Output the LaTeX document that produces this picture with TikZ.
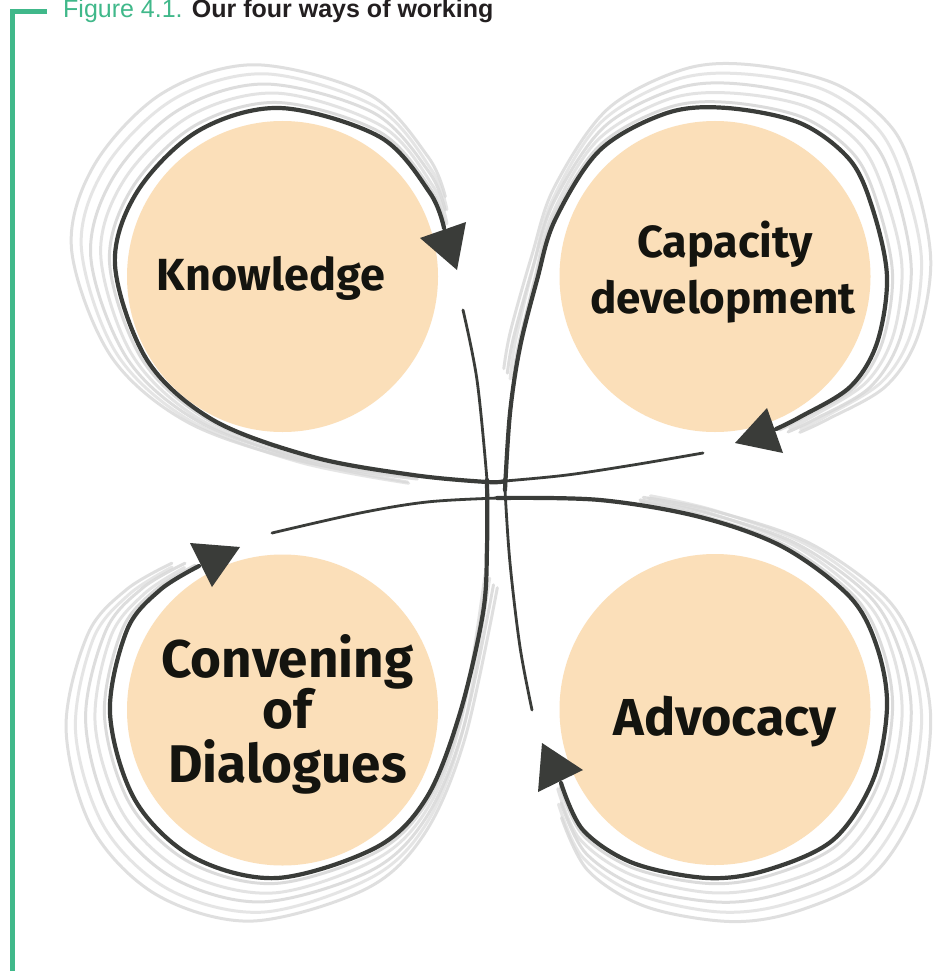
\documentclass[tikz,border=0pt]{standalone}
\usepackage{fontspec}
\setmainfont{Liberation Sans}
\newfontfamily\labelfont{Fira Sans}
\definecolor{figgreen}{HTML}{40B88A}
\definecolor{titleink}{HTML}{231F20}
\definecolor{peach}{HTML}{FBDFB9}
\definecolor{inkdark}{HTML}{3A3C39}
\definecolor{labelink}{HTML}{14140F}
\definecolor{sketchgrey}{HTML}{D8D8D8}
\begin{document}
\begin{tikzpicture}[x=1pt,y=-1pt,
  darkthick/.style={draw=inkdark, line width=4.2pt, line cap=round, line join=round},
  darkthin/.style={draw=inkdark, line width=2.8pt, line cap=round, line join=round},
  sketch/.style={draw=sketchgrey, line width=3pt, line cap=round, line join=round},
  arrowhead/.style={fill=inkdark},
  wayc/.style={circle, fill=peach, minimum size=311pt, inner sep=0pt},
  waysmall/.style={font=\labelfont\bfseries\fontsize{45}{54}\selectfont, text=labelink, anchor=base, inner sep=0pt},
  waybig/.style={font=\labelfont\bfseries\fontsize{53}{60}\selectfont, text=labelink, anchor=base, inner sep=0pt},
  greenrule/.style={draw=figgreen, line width=5pt}
]
\useasboundingbox (0,0) rectangle (944,971);
\fill[white] (0,0) rectangle (944,971);

% frame rule and title
\coordinate (gTop) at (47,11.5);
\coordinate (gCorner) at (12.5,11.5);
\coordinate (gBottom) at (12.5,975);
\draw[greenrule] (gTop) -- (gCorner) -- (gBottom);
\node[anchor=base west, inner sep=0pt, font=\fontsize{25}{30}\selectfont] (title) at (63,18)
  {\textcolor{figgreen}{Figure 4.1.} \textbf{\textcolor{titleink}{Our four ways of working}}};

% ---------- grey sketch strokes (scale / shift / small rotation jitter) ----------
% Knowledge (outward up-left)
\foreach \s/\d/\r/\o in {1.02/3/0/90, 1.05/9/-1.5/70, 1.08/15/1.2/85, 1.11/22/-0.8/65, 1.14/28/1.5/80} {
  \draw[sketch, draw opacity=\o/100, shift={(-0.707*\d,-0.707*\d)}, rotate around={\r:(282.5,276.5)}, scale around={\s:(282.5,276.5)}]
    plot[smooth, tension=0.55] coordinates {(413,475) (313,457) (213,420) (147,360) (115,265) (137,192) (198,131) (280,108) (380,137) (430,193) (444,228)};
}
% Convening (outward down-left)
\foreach \s/\d/\r/\o in {1.02/3/0/90, 1.05/9/1.5/70, 1.08/15/-1.2/85, 1.11/22/0.8/65, 1.14/28/-1.5/80} {
  \draw[sketch, draw opacity=\o/100, shift={(-0.707*\d,0.707*\d)}, rotate around={\r:(282.5,710)}, scale around={\s:(282.5,710)}]
    plot[smooth, tension=0.55] coordinates {(485,580) (460,713) (427,797) (377,847) (277,878) (193,857) (135,800) (110,713) (127,630) (160,590) (199,566)};
}
% Advocacy (outward down-right)
\foreach \s/\d/\r/\o in {1.02/3/0/90, 1.05/9/-1.5/70, 1.08/15/1.2/85, 1.11/22/-0.8/65, 1.14/28/1.5/80} {
  \draw[sketch, draw opacity=\o/100, shift={(0.707*\d,0.707*\d)}, rotate around={\r:(715,709.5)}, scale around={\s:(715,709.5)}]
    plot[smooth, tension=0.55] coordinates {(640,504) (700,517) (783,547) (850,597) (877,647) (887,707) (873,780) (833,840) (767,870) (707,878) (633,863) (583,830) (561,783)};
}
% Capacity (outward up-right)
\foreach \s/\d/\r/\o in {1.02/3/0/90, 1.05/9/1.5/70, 1.08/15/-1.2/85, 1.11/22/0.8/65, 1.14/28/-1.5/80} {
  \draw[sketch, draw opacity=\o/100, shift={(0.707*\d,-0.707*\d)}, rotate around={\r:(715,276.5)}, scale around={\s:(715,276.5)}]
    plot[smooth, tension=0.55] coordinates {(515,380) (520,347) (537,280) (555,220) (600,150) (667,113) (727,108) (800,123) (850,160) (873,210) (887,277) (877,343) (850,387) (800,417) (776,429)};
}

% ---------- circles ----------
\node[wayc] (know) at (282.5,276.5) {};
\node[wayc] (capa) at (715,276.5) {};
\node[wayc] (conv) at (282.5,710) {};
\node[wayc] (advo) at (715,709.5) {};

% ---------- dark loops ----------
% thin connectors leaving each arrow
\draw[darkthin] plot[smooth, tension=0.55] coordinates {(703,453) (633,465) (567,475) (505,481) (487,482)};
\draw[darkthin] plot[smooth, tension=0.55] coordinates {(463,310) (477,380) (487,480) (487,500)};
\draw[darkthin] plot[smooth, tension=0.55] coordinates {(272,533) (360,513) (427,502) (497,498) (510,498)};
\draw[darkthin] plot[smooth, tension=0.55] coordinates {(532,710) (520,647) (510,563) (505,490) (505,478)};
% thick loops
\draw[darkthick] plot[smooth, tension=0.55] coordinates {(505,481) (487,482) (413,475) (313,457) (213,420) (147,360) (115,265) (137,192) (198,131) (280,108) (380,137) (430,193) (444,228)};
\draw[darkthick] plot[smooth, tension=0.55] coordinates {(487,480) (487,547) (483,613) (460,713) (427,797) (377,847) (277,878) (193,857) (135,800) (110,713) (127,630) (160,590) (199,566)};
\draw[darkthick] plot[smooth, tension=0.55] coordinates {(497,498) (600,500) (700,517) (783,547) (850,597) (877,647) (887,707) (873,780) (833,840) (767,870) (707,878) (633,863) (583,830) (561,783)};
\draw[darkthick] plot[smooth, tension=0.55] coordinates {(505,490) (510,413) (520,347) (537,280) (555,220) (600,150) (667,113) (727,108) (800,123) (850,160) (873,210) (887,277) (877,343) (850,387) (800,417) (776,429)};

% ---------- arrowheads ----------
\coordinate (kTip) at (457,270); \coordinate (kB1) at (420,238); \coordinate (kB2) at (466,222);
\coordinate (cTip) at (240,547); \coordinate (cB1) at (190,543); \coordinate (cB2) at (212,587);
\coordinate (aTip) at (542,743); \coordinate (aB1) at (538,792); \coordinate (aB2) at (583,770);
\coordinate (pTip) at (735,443); \coordinate (pB1) at (767,408); \coordinate (pB2) at (783,453);
\fill[arrowhead] (kB1) -- (kTip) -- (kB2) -- cycle;
\fill[arrowhead] (cB1) -- (cTip) -- (cB2) -- cycle;
\fill[arrowhead] (aB1) -- (aTip) -- (aB2) -- cycle;
\fill[arrowhead] (pB1) -- (pTip) -- (pB2) -- cycle;

% ---------- labels ----------
\node[waysmall] (knowT) at (271,290) {Knowledge};
\node[waysmall] (capaT1) at (725,257) {Capacity};
\node[waysmall, font=\labelfont\bfseries\fontsize{44}{54}\selectfont] (capaT2) at (723,313) {development};
\node[waybig] (convT1) at (287.5,677) {Convening};
\node[waybig] (convT2) at (287.5,728) {of};
\node[waybig] (convT3) at (287.5,782) {Dialogues};
\node[waybig, font=\labelfont\bfseries\fontsize{52}{60}\selectfont] (advoT) at (725,735) {Advocacy};
\end{tikzpicture}
\end{document}
